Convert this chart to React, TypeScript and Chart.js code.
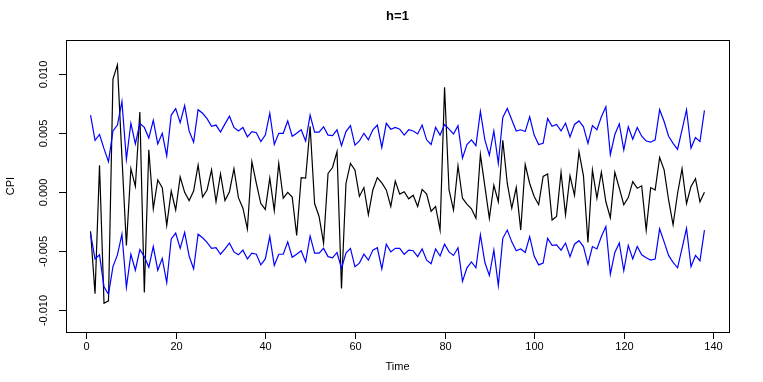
import { useEffect, useRef } from "react";
import { Chart, registerables } from "chart.js";

Chart.register(...registerables);

// CPI (black) series, t = 1..138
const cpi = [
  -0.0033, -0.0086, 0.0023, -0.0094, -0.0092, 0.0096, 0.0108, 0.0030, -0.0045, 0.0020,
  0.0005, 0.0068, -0.0085, 0.0036, -0.0014, 0.00105, 0.0004, -0.0028, 0.0001, -0.0015,
  0.0013, 0.0000, -0.0007, 0.0001, 0.0023, -0.0004, 0.0002, 0.0019, -0.0008, 0.00155,
  -0.0007, 0.00005, 0.0020, -0.00045, -0.00135, -0.0031, 0.0026, 0.00075, -0.00095, -0.00145,
  0.0012, -0.00155, 0.00245, -0.0005, 0.0000, -0.0004, -0.00365, 0.00125, 0.0012, 0.0056,
  -0.00095, -0.00205, -0.0043, 0.0016, 0.0021, 0.00345, -0.00815, 0.00075, 0.00245, 0.0019,
  -0.00035, 0.0004, -0.0019, 0.0002, 0.00125, 0.0008, 0.0002, -0.0012, 0.00095, -0.00015,
  0.00005, -0.00055, -0.00025, -0.0012, 0.00025, -0.00015, -0.0016, -0.0012, -0.0032, 0.0089,
  0.0002, -0.0015, 0.00225, -0.0005, -0.0010, -0.0014, -0.0022, 0.0032, 0.0005, -0.0022,
  0.0006, -0.0008, 0.0044, 0.00075, -0.00135, 0.0004, -0.0032, 0.00235, 0.00075, -0.00035,
  -0.00105, 0.00135, 0.00155, -0.00235, -0.00205, 0.0017, -0.0019, 0.0014, -0.00025, 0.00345,
  0.0014, -0.00425, 0.0019, -0.0005, 0.0017, -0.0008, -0.00215, 0.0017, 0.00035, -0.00105,
  -0.00045, 0.0009, 0.00035, 0.00055, -0.0032, 0.0004, 0.0002, 0.00295, 0.0019, -0.00065,
  -0.00275, -0.0001, 0.0020, -0.00095, 0.0005, 0.00115, -0.0008, 0.0000,
];

// Upper band (blue)
const upper = [
  0.00655, 0.0044, 0.0049, 0.0037, 0.0026, 0.0052, 0.0057, 0.0077, 0.0028, 0.00585,
  0.0041, 0.00585, 0.0055, 0.0046, 0.0061, 0.0041, 0.0050, 0.0031, 0.00655, 0.0071,
  0.0059, 0.00735, 0.0052, 0.00425, 0.0070, 0.0067, 0.00625, 0.0056, 0.0057, 0.0051,
  0.0058, 0.00645, 0.0055, 0.0052, 0.0055, 0.0047, 0.00515, 0.00505, 0.0043, 0.00485,
  0.0067, 0.00405, 0.0050, 0.0050, 0.00605, 0.00475, 0.0050, 0.0053, 0.00435, 0.00655,
  0.0051, 0.0051, 0.00555, 0.00485, 0.0048, 0.0053, 0.00395, 0.00515, 0.00565, 0.0040,
  0.00435, 0.0050, 0.00445, 0.0053, 0.0057, 0.0038, 0.00585, 0.00535, 0.0055, 0.00535,
  0.00485, 0.0053, 0.0052, 0.00495, 0.0057, 0.00445, 0.00405, 0.0055, 0.00485, 0.00575,
  0.00535, 0.00495, 0.00565, 0.0029, 0.00405, 0.00445, 0.00395, 0.00685, 0.00445, 0.00315,
  0.0052, 0.00245, 0.00635, 0.0071, 0.00615, 0.0052, 0.0053, 0.00515, 0.0064, 0.00485,
  0.00405, 0.00415, 0.00625, 0.0056, 0.00575, 0.0052, 0.00585, 0.0047, 0.00575, 0.00605,
  0.00555, 0.00415, 0.00565, 0.0053, 0.0064, 0.00725, 0.0032, 0.0049, 0.0058, 0.0036,
  0.00555, 0.0045, 0.0055, 0.00475, 0.00435, 0.00425, 0.00445, 0.0070, 0.0060, 0.00475,
  0.00415, 0.00365, 0.0053, 0.0070, 0.00375, 0.00465, 0.0043, 0.00695,
];

// Lower band (blue)
const lower = [
  -0.0035, -0.00565, -0.0053, -0.0080, -0.00865, -0.0063, -0.0053, -0.00355, -0.00805, -0.00525,
  -0.0066, -0.00485, -0.00545, -0.00635, -0.0046, -0.0066, -0.0056, -0.00765, -0.00395, -0.00345,
  -0.00475, -0.0034, -0.0054, -0.0065, -0.00355, -0.00385, -0.00425, -0.00475, -0.0047, -0.00525,
  -0.0048, -0.0043, -0.00505, -0.0053, -0.0049, -0.00565, -0.00515, -0.00525, -0.00615, -0.00565,
  -0.00375, -0.0062, -0.00525, -0.00525, -0.0042, -0.0055, -0.00525, -0.00495, -0.0059, -0.0037,
  -0.00515, -0.00515, -0.00475, -0.00545, -0.00555, -0.0051, -0.00645, -0.00515, -0.00475, -0.0063,
  -0.0060, -0.00525, -0.00575, -0.0049, -0.0047, -0.0065, -0.0044, -0.00505, -0.00475, -0.00475,
  -0.00525, -0.0049, -0.00495, -0.00545, -0.0048, -0.00575, -0.00605, -0.0048, -0.0054, -0.0044,
  -0.00505, -0.00535, -0.0047, -0.00755, -0.0064, -0.0059, -0.0064, -0.0036, -0.00595, -0.00705,
  -0.0049, -0.0079, -0.0039, -0.0032, -0.0042, -0.00495, -0.0048, -0.0051, -0.00375, -0.0054,
  -0.00615, -0.0060, -0.0039, -0.0045, -0.00445, -0.0049, -0.0043, -0.00545, -0.0044, -0.0041,
  -0.0046, -0.0061, -0.0046, -0.0048, -0.00375, -0.0029, -0.00695, -0.0051, -0.0043, -0.00665,
  -0.0045, -0.00565, -0.0046, -0.0053, -0.00555, -0.00575, -0.00565, -0.0031, -0.0042, -0.00535,
  -0.00595, -0.0064, -0.00475, -0.00305, -0.0063, -0.00535, -0.0058, -0.0032,
];

const xTicks = [0, 20, 40, 60, 80, 100, 120, 140];
const xTickLabels = ["0", "20", "40", "60", "80", "100", "120", "140"];
const yTicks = [-0.01, -0.005, 0, 0.005, 0.01];
const yTickLabels = ["-0.010", "-0.005", "0.000", "0.005", "0.010"];

const titleText = "h=1";
const xTitle = "Time";
const yTitle = "CPI";

const FONT = "'Liberation Sans', Arial, Helvetica, sans-serif";

const rAxesPlugin = {
  id: "rAxes",
  afterDraw(chart: any) {
    const { ctx, chartArea: a, scales } = chart;
    const xs = scales.x;
    const ys = scales.y;
    ctx.save();
    ctx.strokeStyle = "#000";
    ctx.fillStyle = "#000";
    ctx.lineWidth = 1;
    // box
    ctx.strokeRect(Math.round(a.left) + 0.5, Math.round(a.top) + 0.5, Math.round(a.right - a.left), Math.round(a.bottom - a.top));
    const tick = 7;
    // x axis ticks and labels
    ctx.font = `11px ${FONT}`;
    ctx.textAlign = "center";
    ctx.textBaseline = "middle";
    xTicks.forEach((v, i) => {
      const px = Math.round(xs.getPixelForValue(v)) + 0.5;
      ctx.beginPath();
      ctx.moveTo(px, a.bottom);
      ctx.lineTo(px, a.bottom + tick);
      ctx.stroke();
      ctx.fillText(xTickLabels[i], px, a.bottom + 15);
    });
    // y axis ticks and rotated labels
    yTicks.forEach((v, i) => {
      const py = Math.round(ys.getPixelForValue(v)) + 0.5;
      ctx.beginPath();
      ctx.moveTo(a.left, py);
      ctx.lineTo(a.left - tick, py);
      ctx.stroke();
      ctx.save();
      ctx.translate(a.left - 22, py);
      ctx.rotate(-Math.PI / 2);
      ctx.fillText(yTickLabels[i], 0, 0);
      ctx.restore();
    });
    const cx = (a.left + a.right) / 2;
    const cy = (a.top + a.bottom) / 2;
    // axis titles
    ctx.fillText(xTitle, cx, a.bottom + 35);
    ctx.save();
    ctx.translate(a.left - 55, cy);
    ctx.rotate(-Math.PI / 2);
    ctx.fillText(yTitle, 0, 0);
    ctx.restore();
    // main title
    ctx.font = `bold 13px ${FONT}`;
    ctx.fillText(titleText, cx, 16);
    ctx.restore();
  },
};

export default function App() {
  const canvasRef = useRef<HTMLCanvasElement | null>(null);

  useEffect(() => {
    const canvas = canvasRef.current;
    if (!canvas) return;
    const toPoints = (arr: number[]) => arr.map((v, i) => ({ x: i + 1, y: v }));
    const chart = new Chart(canvas, {
      type: "line",
      data: {
        datasets: [
          {
            label: "upper",
            data: toPoints(upper),
            borderColor: "#0000ff",
            borderWidth: 1.2,
            pointRadius: 0,
            fill: false,
            tension: 0,
          },
          {
            label: "lower",
            data: toPoints(lower),
            borderColor: "#0000ff",
            borderWidth: 1.2,
            pointRadius: 0,
            fill: false,
            tension: 0,
          },
          {
            label: "CPI",
            data: toPoints(cpi),
            borderColor: "#000000",
            borderWidth: 1.2,
            pointRadius: 0,
            fill: false,
            tension: 0,
          },
        ],
      },
      options: {
        responsive: false,
        animation: false,
        layout: { padding: { left: 66, right: 34, top: 40, bottom: 50 } },
        plugins: {
          legend: { display: false },
          title: { display: false },
          tooltip: { enabled: false },
        },
        scales: {
          x: { type: "linear", display: false, min: -4.48, max: 143.48 },
          y: { type: "linear", display: false, min: -0.01184, max: 0.01291 },
        },
      },
      plugins: [rAxesPlugin],
    });
    return () => chart.destroy();
  }, []);

  return (
    <div style={{ position: "absolute", left: 0, top: 0, width: 763, height: 382, background: "#fff" }}>
      <canvas ref={canvasRef} width={763} height={382} />
    </div>
  );
}
